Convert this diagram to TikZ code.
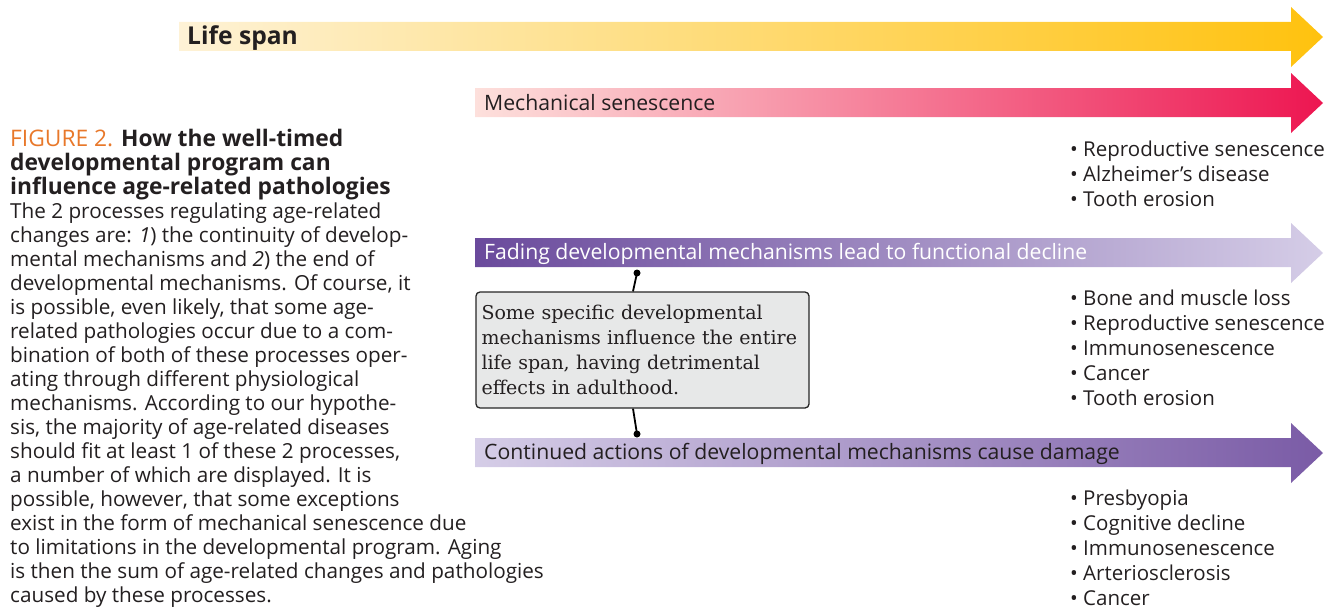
\documentclass[tikz,border=0pt]{standalone}
\usepackage{fontspec}
\setmainfont{Open Sans}
\newfontfamily\boxserif{DejaVu Serif}
\usetikzlibrary{calc}
\definecolor{lifeL}{HTML}{FEF2D6}
\definecolor{lifeR}{HTML}{FFC20E}
\definecolor{mechL}{HTML}{FDE0DC}
\definecolor{mechR}{HTML}{ED1651}
\definecolor{purD}{HTML}{6A4A9C}
\definecolor{purL}{HTML}{D5CDE7}
\definecolor{purD2}{HTML}{7A5BA6}
\definecolor{figorange}{HTML}{E8782A}
\definecolor{txt}{HTML}{231F20}
\definecolor{boxfill}{HTML}{E7E8E8}
\begin{document}
\begin{tikzpicture}[x=1pt,y=-1pt,
  lbl/.style={anchor=base west,inner sep=0pt,text=txt},
  arrowlbl/.style={lbl,font=\fontsize{21.2}{24}\selectfont},
  item/.style={lbl,font=\fontsize{20.5}{25}\selectfont},
  bodyline/.style={lbl,font=\fontsize{20.7}{24}\selectfont},
  titleline/.style={lbl,font=\fontsize{22.8}{24}\selectfont},
  cbox/.style={draw=black!85,line width=1.3pt,rounded corners=4pt,fill=boxfill,
    minimum width=333pt,minimum height=116pt,text width=322pt,inner xsep=5.5pt,
    align=left,font=\boxserif\fontsize{19}{25}\selectfont,text=txt},
  dot/.style={circle,fill=black,inner sep=0pt,minimum size=7pt}]
\useasboundingbox (0,0) rectangle (1340,610);
% arrows
\shade[left color=lifeL,right color=lifeR]
  (179,22) -- (1291,22) -- (1291,7) -- (1323,37) -- (1291,67) -- (1291,51) -- (179,51) -- cycle;
\shade[left color=mechL,right color=mechR]
  (475,88) -- (1291,88) -- (1291,73) -- (1323,103) -- (1291,133) -- (1291,117) -- (475,117) -- cycle;
\shade[left color=purD,right color=purL]
  (475,238) -- (1291,238) -- (1291,223) -- (1323,253) -- (1291,283) -- (1291,267) -- (475,267) -- cycle;
\shade[left color=purL,right color=purD2]
  (475,438) -- (1291,438) -- (1291,423) -- (1323,453) -- (1291,483) -- (1291,467) -- (475,467) -- cycle;
% arrow labels
\node[lbl,font=\fontsize{24.6}{26}\selectfont\bfseries] (life) at (187,45) {Life span};
\node[arrowlbl] (mech) at (484,110) {Mechanical senescence};
\node[arrowlbl,text=white] (fade) at (484,259) {Fading developmental mechanisms lead to functional decline};
\node[arrowlbl] (cont) at (484,459) {Continued actions of developmental mechanisms cause damage};
% bullet lists
\foreach \t [count=\i from 0] in {Reproductive senescence,Alzheimer's disease,Tooth erosion}
  \node[item] (a\i) at (1070,156+25*\i) {\textbullet\ \t};
\foreach \t [count=\i from 0] in {Bone and muscle loss,Reproductive senescence,Immunosenescence,Cancer,Tooth erosion}
  \node[item] (b\i) at (1070,305+25*\i) {\textbullet\ \t};
\foreach \t [count=\i from 0] in {Presbyopia,Cognitive decline,Immunosenescence,Arteriosclerosis,Cancer}
  \node[item] (c\i) at (1070,505+25*\i) {\textbullet\ \t};
% callout
\node[cbox] (cb) at (642.5,350) {\hyphenpenalty=10000 Some specific developmental\\ mechanisms influence the entire\\ life span, having detrimental\\ effects in adulthood.};
\node[dot] (d1) at (637,273) {};
\node[dot] (d2) at (637,434) {};
\draw[line width=1.8pt] (d1.center) -- ([xshift=-9.5pt]cb.north);
\draw[line width=1.8pt] ([xshift=-9.5pt]cb.south) -- (d2.center);
% caption
\node[titleline] (t1) at (10,146) {{\color{figorange}FIGURE 2.} \textbf{How the well-timed}};
\node[titleline] (t2) at (10,170) {\textbf{developmental program can}};
\node[titleline] (t3) at (10,194) {\textbf{influence age-related pathologies}};
\foreach \t [count=\i from 0] in {
  {The 2 processes regulating age-related},
  {changes are: \textit{1}) the continuity of develop-},
  {mental mechanisms and \textit{2}) the end of},
  {developmental mechanisms. Of course, it},
  {is possible, even likely, that some age-},
  {related pathologies occur due to a com-},
  {bination of both of these processes oper-},
  {ating through different physiological},
  {mechanisms. According to our hypothe-},
  {sis, the majority of age-related diseases},
  {should fit at least 1 of these 2 processes,},
  {a number of which are displayed. It is},
  {possible, however, that some exceptions},
  {exist in the form of mechanical senescence due},
  {to limitations in the developmental program. Aging},
  {is then the sum of age-related changes and pathologies},
  {caused by these processes.}}
  \node[bodyline] (body\i) at (10,218+24*\i) {\t};
\end{tikzpicture}
\end{document}
